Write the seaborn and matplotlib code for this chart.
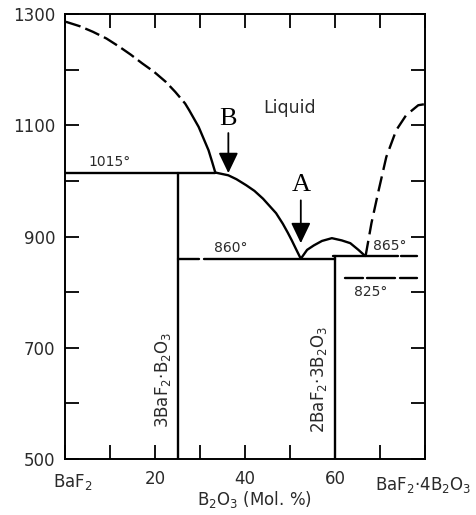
import numpy as np
import pandas as pd
import seaborn as sns
import matplotlib
matplotlib.use("Agg")
import matplotlib.pyplot as plt

# ---------------- data ----------------
# liquidus, BaF2 side: dashed then solid part
liq_left_dash_x = [0.2, 3.3, 6.2, 9.2, 12.1, 14.6, 17.2, 19.8, 22.4, 24.5, 26.7, 27.6]
liq_left_dash_T = [1286, 1278, 1268, 1256, 1241, 1227, 1211, 1196, 1178, 1160, 1139, 1127]
liq_left_solid_x = [27.6, 29.7, 30.8, 31.9, 32.7, 33.4]
liq_left_solid_T = [1127, 1097, 1076, 1055, 1034, 1015]
# liquidus from B (peritectic) to A (eutectic)
liq_mid_x = [33.4, 36.3, 38.1, 40.3, 42.1, 44.0, 46.9, 48.4, 49.5, 50.4, 51.3, 52.4]
liq_mid_T = [1015, 1010, 1003, 992, 982, 968, 942, 923, 907, 893, 878, 860]
# dome of 2BaF2.3B2O3
dome_x = [52.4, 53.8, 55.3, 57.1, 59.3, 61.5, 63.4, 65.2, 66.7]
dome_T = [860, 876, 884, 892, 897, 893, 888, 876, 865]
# liquidus, B2O3-rich side (dashed)
liq_right_x = [66.8, 68.1, 69.7, 71.4, 73.6, 75.8, 78.5, 80.0]
liq_right_T = [865, 924, 983, 1043, 1091, 1118, 1136, 1138]

# isotherms / compound lines: (x0, x1, T0, T1)
solid_segments = [
    (0.0, 33.4, 1015, 1015),   # 1015 deg
    (25.0, 29.7, 860, 860),    # 860 deg
    (30.8, 60.0, 860, 860),
    (59.6, 73.9, 865, 865),    # 865 deg
    (74.7, 78.2, 865, 865),
    (62.3, 66.3, 825, 825),    # 825 deg (dashed pieces)
    (67.0, 73.3, 825, 825),
    (74.4, 78.3, 825, 825),
    (25.0, 25.0, 500, 1015),   # 3BaF2.B2O3
    (60.0, 60.0, 500, 865),    # 2BaF2.3B2O3
]

temp_labels = ["1015°", "860°", "865°", "825°"]
temp_label_x = [10.0, 36.9, 72.1, 68.0]
temp_label_T = [1034, 880, 883, 801]

y_ticks = [500, 600, 700, 800, 900, 1000, 1100, 1200, 1300]
y_ticklabels = ["500", "", "700", "", "900", "", "1100", "", "1300"]
x_ticks = [0, 10, 20, 30, 40, 50, 60, 70, 80]
x_ticklabels = ["", "", "20", "", "40", "", "60", "", ""]

# arrows: label, x, label T, tail T, head T
arrow_labels = ["B", "A"]
arrow_x = [36.3, 52.4]
arrow_label_T = [1111, 992]
arrow_tail_T = [1086, 965]
arrow_head_T = [1014, 888]

# ---------------- figure ----------------
sns.set_style("ticks")
plt.rcParams["font.family"] = ["DejaVu Sans"]
plt.rcParams["mathtext.fontset"] = "dejavusans"

fig = plt.figure(figsize=(4.77, 5.15), dpi=100)
ax = fig.add_axes([65 / 477, 56 / 515, 360 / 477, 445 / 515])

LW = 1.7
tc = "#2a2a2a"

def line(xs, ys, **kw):
    df = pd.DataFrame({"x": xs, "T": ys})
    sns.lineplot(data=df, x="x", y="T", ax=ax, color="black", lw=LW,
                 sort=False, estimator=None, legend=False, **kw)

line(liq_left_dash_x, liq_left_dash_T, linestyle=(0, (6.5, 2.2)))
line(liq_left_solid_x, liq_left_solid_T)
line(liq_mid_x, liq_mid_T)
line(dome_x, dome_T)
line(liq_right_x, liq_right_T, linestyle=(0, (6.5, 2.8)))

seg_rows = []
for i, (x0, x1, t0, t1) in enumerate(solid_segments):
    seg_rows.append({"seg": i, "x": x0, "T": t0})
    seg_rows.append({"seg": i, "x": x1, "T": t1})
seg_df = pd.DataFrame(seg_rows)
sns.lineplot(data=seg_df, x="x", y="T", units="seg", estimator=None, sort=False,
             ax=ax, color="black", lw=LW, legend=False)

ax.set_xlim(0, 80)
ax.set_ylim(500, 1300)
ax.set_yticks(y_ticks)
ax.set_yticklabels(y_ticklabels)
ax.set_xticks(x_ticks)
ax.set_xticklabels(x_ticklabels)
ax.tick_params(direction="in", length=10, width=1.3, top=True, right=True,
               labelsize=12, labelcolor=tc, color="black")
ax.tick_params(axis="y", pad=7)
ax.tick_params(axis="x", pad=8)
for s in ax.spines.values():
    s.set_linewidth(1.4)
    s.set_color("black")

ax.set_xlabel("B$_2$O$_3$ (Mol. %)", fontsize=12, color=tc)
ax.xaxis.set_label_coords((254 - 65) / 360, -0.068)
ax.set_ylabel("")

tr = ax.get_xaxis_transform()
ax.text(1.8, -0.03, "BaF$_2$", transform=tr, ha="center", va="top",
        fontsize=12, color=tc)
ax.text(79.6, -0.036, "BaF$_2$·4B$_2$O$_3$", transform=tr, ha="center",
        va="top", fontsize=12, color=tc)

for lab, x, t in zip(temp_labels, temp_label_x, temp_label_T):
    ax.text(x, t, lab, ha="center", va="center", fontsize=10, color=tc)

ax.text(49.9, 1131, "Liquid", ha="center", va="center", fontsize=12.5,
        color=tc)
ax.text(21.8, 642, "3BaF$_2$·B$_2$O$_3$", rotation=90, ha="center",
        va="center", fontsize=12, color=tc)
ax.text(56.5, 642, "2BaF$_2$·3B$_2$O$_3$", rotation=90, ha="center",
        va="center", fontsize=12, color=tc)

for lab, x, tl, tt, th in zip(arrow_labels, arrow_x, arrow_label_T,
                              arrow_tail_T, arrow_head_T):
    ax.text(x, tl, lab, ha="center", va="center", fontsize=19,
            family="Liberation Serif", color="black")
    ax.annotate("", xy=(x, th), xytext=(x, tt),
                arrowprops=dict(arrowstyle="-|>,head_length=1.25,head_width=0.6",
                                mutation_scale=10, lw=1.3, color="black",
                                shrinkA=0, shrinkB=0))

fig.savefig("out.png", dpi=100)
